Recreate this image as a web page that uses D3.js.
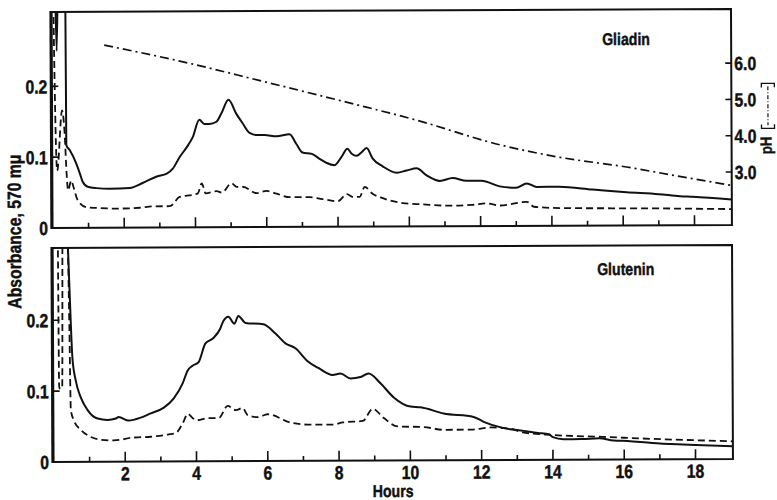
<!DOCTYPE html>
<html><head><meta charset="utf-8">
<script src="https://cdn.jsdelivr.net/npm/d3@7"></script>
<style>
html,body{margin:0;background:#fff;}
svg text{font-family:"Liberation Sans",Arial,Helvetica,sans-serif;font-weight:bold;fill:#111;stroke:#111;stroke-width:0.45px;}
</style></head><body>
<svg id="chart" width="777" height="500"></svg>
<script>
// Gliadin elution (upper panel)
const gliadinSolidT = [0, 0.07, 0.126, 0.18, 0.28, 0.365, 0.385, 0.48, 0.66, 0.76, 0.84, 0.98, 1.23, 1.6, 2.16, 2.52, 2.92, 3.2, 3.37, 3.56, 3.76, 3.93, 4.12, 4.26, 4.4, 4.6, 4.74, 4.94, 5.16, 5.33, 5.53, 5.72, 5.95, 6.28, 6.65, 6.84, 7.01, 7.27, 7.49, 7.69, 7.91, 8.11, 8.27, 8.39, 8.53, 8.67, 8.81, 8.98, 9.26, 9.65, 9.93, 10.21, 10.49, 10.86, 11.22, 11.61, 12.03, 12.54, 13.0, 13.3, 13.58, 14.2, 15.15, 16.1, 17.0, 17.6, 17.95, 19.05];
const gliadinSolidA = [0.5, 0.40, 0.25, 0.40, 0.5, 0.5, 0.117, 0.110, 0.091, 0.077, 0.065, 0.058, 0.056, 0.055, 0.056, 0.063, 0.072, 0.076, 0.083, 0.099, 0.113, 0.127, 0.152, 0.146, 0.146, 0.149, 0.161, 0.180, 0.160, 0.147, 0.133, 0.130, 0.130, 0.128, 0.131, 0.117, 0.105, 0.103, 0.096, 0.090, 0.087, 0.099, 0.110, 0.103, 0.100, 0.105, 0.111, 0.096, 0.085, 0.076, 0.079, 0.082, 0.072, 0.064, 0.068, 0.064, 0.064, 0.056, 0.054, 0.060, 0.055, 0.055, 0.051, 0.047, 0.044, 0.041, 0.040, 0.036];
const gliadinDashedT = [0, 0.126, 0.27, 0.34, 0.39, 0.43, 0.52, 0.58, 0.7, 0.95, 1.23, 1.8, 2.44, 2.8, 3.28, 3.56, 3.93, 4.07, 4.18, 4.29, 4.6, 4.74, 5.02, 5.16, 5.33, 5.72, 6.0, 6.28, 6.65, 7.21, 7.57, 8.0, 8.25, 8.42, 8.61, 8.75, 8.98, 9.26, 9.82, 10.38, 11.14, 11.78, 12.17, 12.54, 13.3, 13.5, 14.22, 16.75, 19.05];
const gliadinDashedA = [0.5, 0.081, 0.166, 0.133, 0.077, 0.053, 0.067, 0.058, 0.039, 0.029, 0.028, 0.027, 0.028, 0.030, 0.030, 0.043, 0.046, 0.048, 0.062, 0.048, 0.051, 0.049, 0.062, 0.057, 0.057, 0.048, 0.051, 0.047, 0.042, 0.042, 0.039, 0.036, 0.046, 0.042, 0.042, 0.056, 0.046, 0.040, 0.033, 0.031, 0.029, 0.030, 0.032, 0.029, 0.034, 0.027, 0.025, 0.024, 0.0225];
const gliadinPhT = [1.46, 3.76, 5.8, 8.33, 10.2, 12.54, 14.2, 16.1, 17.5, 19.05];
const gliadinPh = [6.57, 6.08, 5.58, 4.95, 4.47, 3.78, 3.43, 3.15, 2.9, 2.63];

// Glutenin elution (lower panel)
const gluteninSolidT = [0, 0.3, 0.42, 0.48, 0.53, 0.62, 0.76, 0.95, 1.23, 1.51, 1.74, 1.82, 2.1, 2.44, 2.72, 3.09, 3.37, 3.62, 3.76, 3.9, 4.07, 4.26, 4.49, 4.68, 4.77, 4.91, 5.08, 5.19, 5.39, 5.89, 6.23, 6.51, 6.79, 7.12, 7.43, 7.83, 8.05, 8.33, 8.61, 8.84, 9.17, 9.54, 10.01, 10.29, 10.94, 11.78, 12.06, 12.62, 13.18, 13.58, 13.89, 14.0, 14.3, 14.8, 15.3, 15.7, 16.1, 16.78, 17.5, 18.0, 19.05];
const gluteninSolidA = [0.5, 0.5, 0.30, 0.209, 0.147, 0.115, 0.091, 0.073, 0.061, 0.059, 0.061, 0.063, 0.058, 0.062, 0.068, 0.076, 0.089, 0.110, 0.128, 0.135, 0.140, 0.166, 0.174, 0.187, 0.198, 0.204, 0.194, 0.205, 0.195, 0.193, 0.180, 0.166, 0.159, 0.141, 0.131, 0.121, 0.123, 0.116, 0.118, 0.123, 0.109, 0.089, 0.076, 0.075, 0.066, 0.061, 0.054, 0.045, 0.041, 0.038, 0.036, 0.032, 0.029, 0.029, 0.030, 0.027, 0.026, 0.023, 0.021, 0.020, 0.018];
const gluteninDashedT = [0, 0.13, 0.155, 0.24, 0.27, 0.36, 0.42, 0.45, 0.48, 0.56, 0.76, 1.04, 1.32, 1.68, 2.24, 2.72, 3.2, 3.42, 3.62, 3.76, 3.9, 4.04, 4.32, 4.63, 4.88, 5.11, 5.3, 5.44, 5.72, 6.0, 6.65, 7.21, 7.85, 8.11, 8.67, 8.95, 9.26, 9.65, 10.38, 10.94, 11.7, 12.26, 12.82, 13.15, 14.0, 15.4, 16.75, 19.05];
const gluteninDashedA = [0.5, 0.35, 0.104, 0.104, 0.35, 0.5, 0.30, 0.185, 0.073, 0.059, 0.045, 0.035, 0.031, 0.030, 0.034, 0.035, 0.038, 0.040, 0.054, 0.067, 0.061, 0.058, 0.061, 0.061, 0.078, 0.072, 0.075, 0.065, 0.062, 0.066, 0.054, 0.051, 0.051, 0.054, 0.056, 0.073, 0.060, 0.048, 0.047, 0.043, 0.043, 0.046, 0.044, 0.039, 0.035, 0.032, 0.029, 0.025];

// Axis ticks
const hourLabels = [2, 4, 6, 8, 10, 12, 14, 16, 18];
const hourMinor = [1, 3, 5, 7, 9, 11, 13, 15, 17];
const absTicks = [0, 0.1, 0.2];
const phTicks = [3, 4, 5, 6];

const INK = "#111";
const NARROW = 0.83;   // horizontal squeeze for the condensed lettering

const svg = d3.select("#chart");
const defs = svg.append("defs");
const root = svg.append("g").attr("transform", "rotate(-0.25,390,240)");

const x = d3.scaleLinear().domain([0, 19.05]).range([53, 732]);
const yTop = d3.scaleLinear().domain([0, 0.305]).range([226.5, 10.5]);
const yBot = d3.scaleLinear().domain([0, 0.302]).range([460.5, 246.5]);
const yPh = d3.scaleLinear().domain([1.54, 7.49]).range([226.5, 10.5]);

function label(g, px, py, str, size, anchor, extra) {
  return g.append("text")
    .attr("transform", `translate(${px},${py}) ${extra || ""} scale(${NARROW},1)`)
    .attr("text-anchor", anchor || "start")
    .attr("font-size", size)
    .text(str);
}

function panel(id, y) {
  const [y0, y1] = y.range();
  defs.append("clipPath").attr("id", id).append("rect")
    .attr("x", x.range()[0] - 1).attr("y", y1)
    .attr("width", x.range()[1] - x.range()[0] + 1).attr("height", y0 - y1);
  return root.append("g");
}

function drawFrame(g, y) {
  const [y0, y1] = y.range();
  const L = 52, R = 732;
  g.append("path").attr("d", `M${L},${y1}H${R}V${y0}H${L}`)
    .attr("fill", "none").attr("stroke", INK).attr("stroke-width", 2);
  g.append("line").attr("x1", L).attr("x2", L).attr("y1", y1 - 1).attr("y2", y0 + 1)
    .attr("stroke", INK).attr("stroke-width", 3.2);
  g.selectAll(null).data(hourLabels).join("line")
    .attr("x1", d => x(d)).attr("x2", d => x(d)).attr("y1", y0).attr("y2", y0 - 10)
    .attr("stroke", INK).attr("stroke-width", 1.6);
  g.selectAll(null).data(hourMinor).join("line")
    .attr("x1", d => x(d)).attr("x2", d => x(d)).attr("y1", y0).attr("y2", y0 - 5)
    .attr("stroke", INK).attr("stroke-width", 1.6);
  g.selectAll(null).data(absTicks.filter(d => d > 0)).join("line")
    .attr("x1", L).attr("x2", L + 7).attr("y1", d => y(d)).attr("y2", d => y(d))
    .attr("stroke", INK).attr("stroke-width", 1.6);
  absTicks.forEach(d => label(g, 48, y(d) + 7, d === 0 ? "0" : d3.format(".1f")(d), 19, "end"));
}

function drawLine(g, clipId, T, V, y, dash, w) {
  const pts = T.map((t, i) => [t, V[i]]);
  const line = d3.line().x(d => x(d[0])).y(d => y(d[1])).curve(d3.curveMonotoneX);
  g.append("path").attr("clip-path", `url(#${clipId})`)
    .attr("d", line(pts)).attr("fill", "none").attr("stroke", INK)
    .attr("stroke-width", w).attr("stroke-dasharray", dash)
    .attr("stroke-linejoin", "round");
}

// Upper panel: gliadin, with pH gradient
const gTop = panel("clipTop", yTop);
drawLine(gTop, "clipTop", gliadinSolidT, gliadinSolidA, yTop, null, 2);
drawLine(gTop, "clipTop", gliadinDashedT, gliadinDashedA, yTop, "7,4", 1.8);
drawLine(gTop, "clipTop", gliadinPhT, gliadinPh, yPh, "9,4,2,4", 1.7);
drawFrame(gTop, yTop);

gTop.selectAll(null).data(phTicks).join("line")
  .attr("x1", 732).attr("x2", 726).attr("y1", d => yPh(d)).attr("y2", d => yPh(d))
  .attr("stroke", INK).attr("stroke-width", 1.6);
phTicks.forEach(d => label(gTop, 735, yPh(d) + 7, d3.format(".1f")(d), 19, "start"));

// pH axis title with a dash-dot key between brackets
label(gTop, 772, 156, "pH", 16, "start", "rotate(-90)");
gTop.append("path").attr("d", "M762,89V85H775V89M762,126V130H775V126")
  .attr("fill", "none").attr("stroke", INK).attr("stroke-width", 1.3);
gTop.append("line").attr("x1", 768.5).attr("x2", 768.5).attr("y1", 88).attr("y2", 127)
  .attr("stroke", INK).attr("stroke-width", 1.2).attr("stroke-dasharray", "4,2,1,2");
label(gTop, 603, 46, "Gliadin", 17, "start");

// Lower panel: glutenin
const gBot = panel("clipBot", yBot);
drawLine(gBot, "clipBot", gluteninSolidT, gluteninSolidA, yBot, null, 2);
drawLine(gBot, "clipBot", gluteninDashedT, gluteninDashedA, yBot, "7,4", 1.8);
drawFrame(gBot, yBot);
hourLabels.forEach(d => label(gBot, x(d), 479, String(d), 19, "middle"));
label(gBot, 392, 497, "Hours", 17, "middle");
label(gBot, 597, 276, "Glutenin", 17, "start");

// Shared absorbance title
label(root, 21, 230, "Absorbance, 570 mμ", 19, "middle", "rotate(-90)");
</script>
</body></html>
